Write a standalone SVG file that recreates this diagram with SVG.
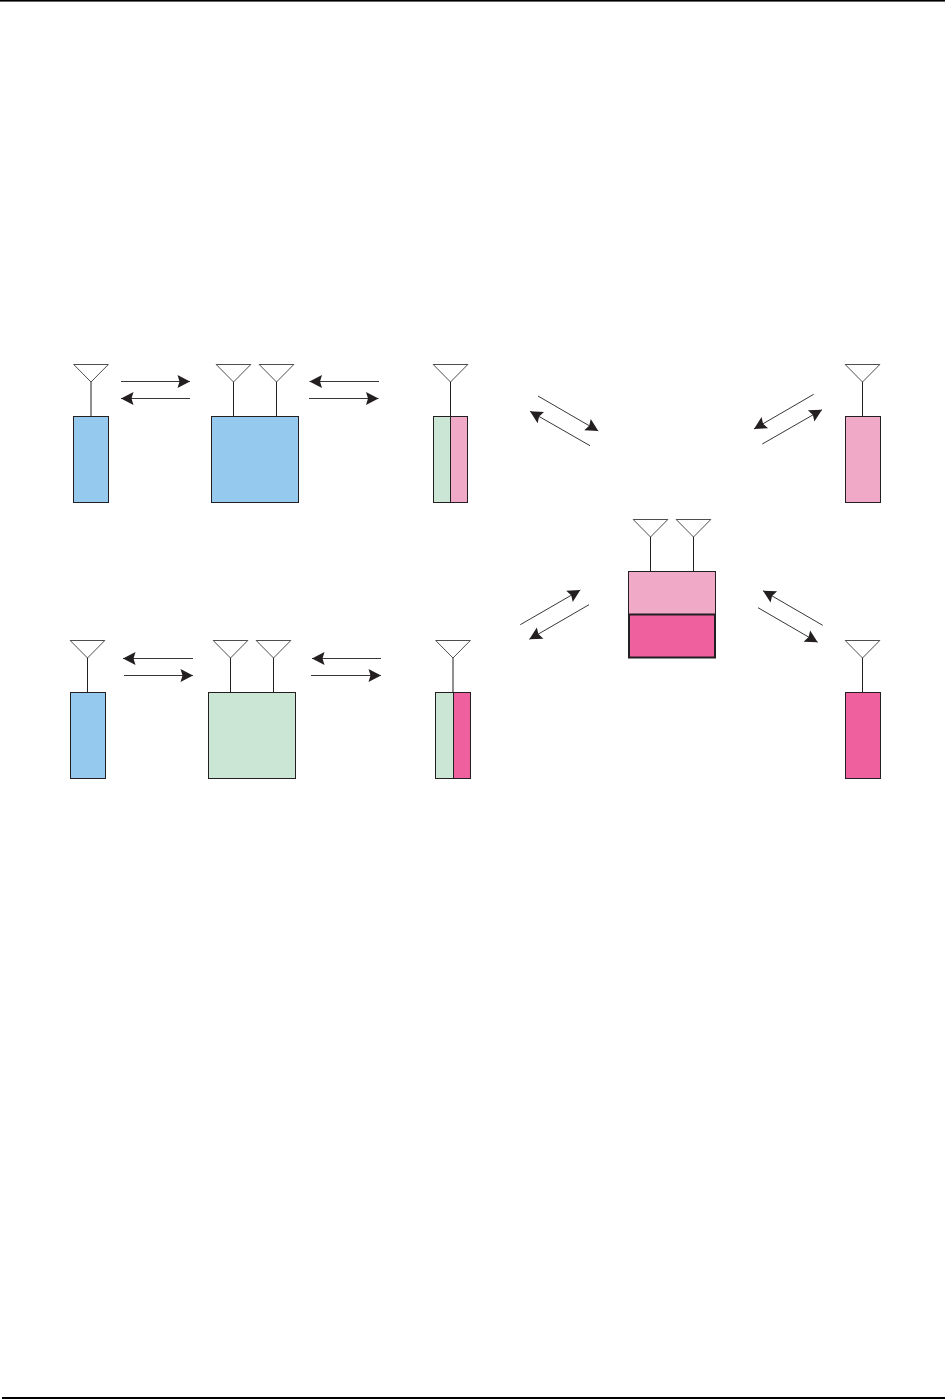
<svg xmlns="http://www.w3.org/2000/svg" width="945" height="1399" viewBox="0 0 945 1399">
<style>
.box{stroke:#231f20;stroke-width:1}
.blue{fill:#95c9ee}.green{fill:#cce6d5}.light{fill:#f0a9c6}.pink{fill:#ee609e}
.ant{fill:#fff;stroke:#231f20;stroke-width:.8}
.stem{fill:none;stroke:#231f20;stroke-width:1}
.arr{fill:none;stroke:#231f20;stroke-width:.9;marker-end:url(#head)}
</style>
<defs>
<marker id="head" markerUnits="userSpaceOnUse" markerWidth="14" markerHeight="14" refX="13" refY="7" orient="auto">
<path d="M0.5 0.5L13 7L0.5 13.5L2.5 7Z" fill="#231f20"/>
</marker>
<g id="antenna"><path class="ant" d="M-17.3 0H17.3L0 17.5Z"/><path class="stem" d="M0 17.5V52"/></g>
</defs>
<rect width="945" height="1399" fill="#fff"/>
<rect x="0" y="0" width="945" height="1.6" fill="#000"/>
<rect x="2" y="1397" width="943" height="2" fill="#000"/>
<g id="connectors">
<path class="arr" d="M121 381.5H190"/>
<path class="arr" d="M190 398.5H121"/>
<path class="arr" d="M379 381.5H309.5"/>
<path class="arr" d="M309 398.5H378.5"/>
<path class="arr" d="M193 658.5H123"/>
<path class="arr" d="M124 675.5H193"/>
<path class="arr" d="M381 658.5H312"/>
<path class="arr" d="M311 675.5H381"/>
<path class="arr" d="M538 396L598.3 431"/>
<path class="arr" d="M590 445.7L530 411.3"/>
<path class="arr" d="M813.7 394.3L754 429"/>
<path class="arr" d="M762.3 444L822 409.7"/>
<path class="arr" d="M520.3 624.7L580.3 590"/>
<path class="arr" d="M589 604.7L529.3 639.3"/>
<path class="arr" d="M822.7 625.3L763 590.7"/>
<path class="arr" d="M758 607.7L817.7 642.3"/>
</g>
<g id="node-top-1">
<use href="#antenna" x="91" y="364.5"/>
<rect class="box blue" x="73.5" y="416.5" width="35" height="86"/>
</g>
<g id="node-top-2">
<use href="#antenna" x="233.5" y="364.5"/>
<use href="#antenna" x="276.5" y="364.5"/>
<rect class="box blue" x="211.5" y="416.5" width="87" height="86"/>
</g>
<g id="node-top-3">
<use href="#antenna" x="450.5" y="364.5"/>
<rect class="box green" x="433.5" y="416.5" width="17" height="86"/>
<rect class="box light" x="450.5" y="416.5" width="17" height="86"/>
</g>
<g id="node-top-4">
<use href="#antenna" x="862.5" y="364.5"/>
<rect class="box light" x="845.5" y="416.5" width="35" height="86"/>
</g>
<g id="node-center">
<use href="#antenna" x="650.5" y="519.5"/>
<use href="#antenna" x="693.5" y="519.5"/>
<rect class="box light" x="628.5" y="571.5" width="87" height="43"/>
<rect class="box pink" style="stroke-width:2" x="629" y="614.5" width="86" height="43"/>
</g>
<g id="node-bottom-1">
<use href="#antenna" x="87.5" y="640.5"/>
<rect class="box blue" x="70.5" y="692.5" width="35" height="86"/>
</g>
<g id="node-bottom-2">
<use href="#antenna" x="230.5" y="640.5"/>
<use href="#antenna" x="273.5" y="640.5"/>
<rect class="box green" x="208.5" y="692.5" width="87" height="86"/>
</g>
<g id="node-bottom-3">
<use href="#antenna" x="453" y="640.5"/>
<rect class="box green" x="435.5" y="692.5" width="18" height="86"/>
<rect class="box pink" x="453.5" y="692.5" width="17" height="86"/>
</g>
<g id="node-bottom-4">
<use href="#antenna" x="862.5" y="640.5"/>
<rect class="box pink" x="845.5" y="692.5" width="35" height="86"/>
</g>
</svg>
